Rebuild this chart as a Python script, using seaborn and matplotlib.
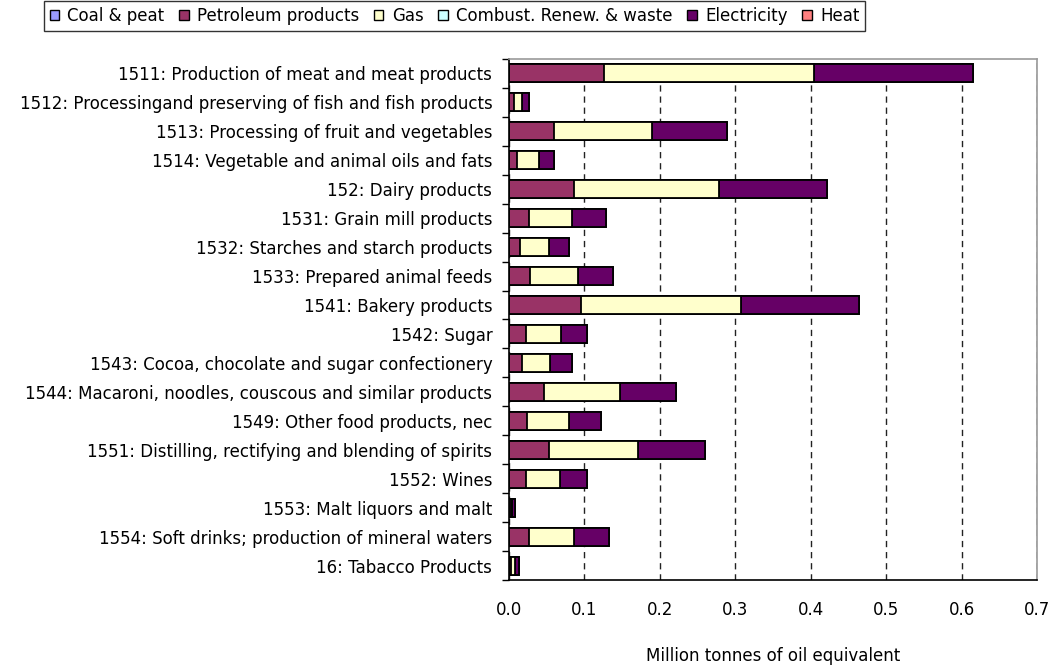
import matplotlib
matplotlib.use('Agg')
import numpy as np
import pandas as pd
import matplotlib.pyplot as plt
import seaborn as sns
from matplotlib.patches import Patch

# ── DATA (Mtoe) ─────────────────────────────────────────────
sectors = [
    '1511: Production of meat and meat products',
    '1512: Processingand preserving of fish and fish products',
    '1513: Processing of fruit and vegetables',
    '1514: Vegetable and animal oils and fats',
    '152: Dairy products',
    '1531: Grain mill products',
    '1532: Starches and starch products',
    '1533: Prepared animal feeds',
    '1541: Bakery products',
    '1542: Sugar',
    '1543: Cocoa, chocolate and sugar confectionery',
    '1544: Macaroni, noodles, couscous and similar products',
    '1549: Other food products, nec',
    '1551: Distilling, rectifying and blending of spirits',
    '1552: Wines',
    '1553: Malt liquors and malt',
    '1554: Soft drinks; production of mineral waters',
    '16: Tabacco Products',
]
coal_peat   = [0, 0, 0, 0, 0, 0, 0, 0, 0, 0, 0, 0, 0, 0, 0, 0, 0, 0]
petroleum   = [0.126, 0.006, 0.060, 0.011, 0.086, 0.026, 0.015, 0.028, 0.096,
               0.022, 0.017, 0.047, 0.024, 0.053, 0.022, 0.002, 0.026, 0.002]
gas         = [0.278, 0.011, 0.130, 0.029, 0.192, 0.058, 0.038, 0.063, 0.211,
               0.047, 0.038, 0.100, 0.056, 0.118, 0.046, 0.002, 0.060, 0.006]
renewables  = [0, 0, 0, 0, 0, 0, 0, 0, 0, 0, 0, 0, 0, 0, 0, 0, 0, 0]
electricity = [0.211, 0.010, 0.099, 0.020, 0.144, 0.044, 0.027, 0.047, 0.157,
               0.035, 0.029, 0.075, 0.042, 0.089, 0.036, 0.004, 0.047, 0.005]
heat        = [0, 0, 0, 0, 0, 0, 0, 0, 0, 0, 0, 0, 0, 0, 0, 0, 0, 0]

series_names = ['Coal & peat', 'Petroleum products', 'Gas',
                'Combust. Renew. & waste', 'Electricity', 'Heat']
colors = ['#9999FF', '#993366', '#FFFFCC', '#CCFFFF', '#660066', '#FF8080']

df = pd.DataFrame({
    'Sector': sectors,
    'Coal & peat': coal_peat,
    'Petroleum products': petroleum,
    'Gas': gas,
    'Combust. Renew. & waste': renewables,
    'Electricity': electricity,
    'Heat': heat,
})
cum = df[series_names].cumsum(axis=1)
cum['Sector'] = df['Sector']

# ── PLOT ────────────────────────────────────────────────────
sns.set_theme(style='white')
plt.rcParams['font.family'] = ['DejaVu Sans']
plt.rcParams['text.color'] = 'black'
plt.rcParams['xtick.color'] = 'black'
plt.rcParams['ytick.color'] = 'black'
plt.rcParams['axes.labelcolor'] = 'black'
FS = 12.0

fig = plt.figure(figsize=(10.51, 6.71), dpi=100)
ax = fig.add_axes([0.4843, 0.1356, 0.9867 - 0.4843, 0.9121 - 0.1356])

# stacked bars: draw cumulative totals from the outermost series inward
for name, col in reversed(list(zip(series_names, colors))):
    sns.barplot(data=cum, x=name, y='Sector', orient='h', color=col,
                edgecolor='black', linewidth=1.3, width=0.62, ax=ax,
                saturation=1)

ax.set_xlim(0, 0.7)
ax.set_ylim(len(sectors) - 0.5, -0.5)
ax.set_xticks(np.arange(0, 0.71, 0.1))
ax.set_xticklabels([f'{v:.1f}' for v in np.arange(0, 0.71, 0.1)])
ax.set_yticks(np.arange(len(sectors)))
ax.set_yticklabels(sectors)
ax.set_ylabel('')
ax.set_xlabel('Million tonnes of oil equivalent', fontsize=FS, labelpad=20)

ax.xaxis.grid(True, linestyle=(0, (4.5, 3.5)), color='#222222', linewidth=1)
ax.yaxis.grid(False)
ax.set_axisbelow(True)

ax.tick_params(axis='x', length=0, pad=15, labelsize=FS)
ax.tick_params(axis='y', length=0, pad=12, labelsize=FS)
# small tick marks between the categories
ax.set_yticks(np.arange(-0.5, len(sectors), 1), minor=True)
ax.tick_params(axis='y', which='minor', length=5, width=1, color='black',
               direction='out', left=True)

for s in ['left', 'bottom']:
    ax.spines[s].set_color('black')
    ax.spines[s].set_linewidth(1.2)
for s in ['top', 'right']:
    ax.spines[s].set_color('#999999')
    ax.spines[s].set_linewidth(1.2)

handles = [Patch(facecolor=c, edgecolor='black', linewidth=1, label=n)
           for n, c in zip(series_names, colors)]
leg = fig.legend(handles=handles, loc='upper left',
                 bbox_to_anchor=(44 / 1051, 1 - 1 / 671), ncol=6,
                 fontsize=FS, frameon=True, fancybox=False,
                 handlelength=0.55, handleheight=0.55, handletextpad=0.5,
                 columnspacing=0.9, borderpad=0.35, borderaxespad=0)
leg.get_frame().set_edgecolor('black')
leg.get_frame().set_linewidth(1)

plt.savefig('out.png', dpi=100)
